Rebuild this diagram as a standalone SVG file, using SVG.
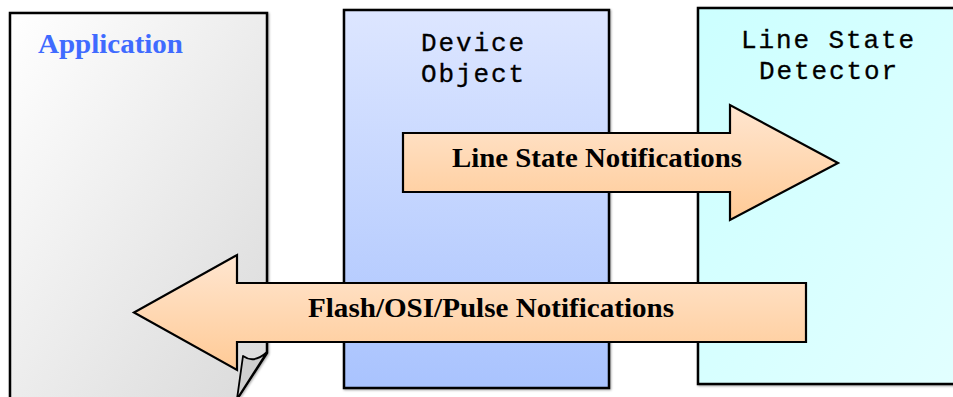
<svg xmlns="http://www.w3.org/2000/svg" width="953" height="397" viewBox="0 0 953 397">
  <defs>
    <linearGradient id="gApp" x1="0" y1="0" x2="1" y2="1">
      <stop offset="0" stop-color="#ffffff"/>
      <stop offset="1" stop-color="#dadada"/>
    </linearGradient>
    <linearGradient id="gDev" x1="0" y1="0" x2="0" y2="1">
      <stop offset="0" stop-color="#dde6ff"/>
      <stop offset="1" stop-color="#a9c3fe"/>
    </linearGradient>
    <linearGradient id="gLsd" x1="0" y1="0" x2="1" y2="1">
      <stop offset="0" stop-color="#ccffff"/>
      <stop offset="1" stop-color="#e2ffff"/>
    </linearGradient>
    <linearGradient id="gArrow" x1="0" y1="0" x2="0" y2="1">
      <stop offset="0" stop-color="#ffe6d0"/>
      <stop offset="1" stop-color="#ffca96"/>
    </linearGradient>
    <filter id="shadow" x="-5%" y="-5%" width="110%" height="110%">
      <feDropShadow dx="1" dy="1" stdDeviation="0.8" flood-color="#000" flood-opacity="0.35"/>
    </filter>
  </defs>
  <style>
    .box { stroke: #000; stroke-width: 2.5; filter: url(#shadow); }
    .arrow { fill: url(#gArrow); stroke: #000; stroke-width: 2.2; stroke-linejoin: miter; }
    .mono { font-family: "Liberation Mono", "Courier New", monospace; font-size: 26px; fill: #000; stroke: #000; stroke-width: 0.3; letter-spacing: 1.9px; }
    .label { font-family: "Liberation Serif", "Times New Roman", serif; font-weight: bold; font-size: 28px; fill: #000; }
    .title { font-family: "Liberation Serif", "Times New Roman", serif; font-weight: bold; font-size: 27px; fill: #3f6bff; }
  </style>

  <rect width="953" height="397" fill="#ffffff"/>

  <!-- Application page with curled corner -->
  <g id="application">
    <path class="box" d="M10,13 L267,13 L267,353 L237,399 L10,399 Z" fill="url(#gApp)"/>
    <path d="M243,356 Q254,364 267,352 L237,399 Z" fill="#cfcfcf" stroke="#000" stroke-width="1.8" stroke-linejoin="round"/>
    <text class="title" x="38" y="53" textLength="145" lengthAdjust="spacingAndGlyphs">Application</text>
  </g>

  <!-- Device Object -->
  <g id="device-object">
    <rect class="box" x="344" y="10" width="265" height="378" fill="url(#gDev)"/>
    <text class="mono" x="421" y="51">Device</text>
    <text class="mono" x="421" y="82">Object</text>
  </g>

  <!-- Line State Detector -->
  <g id="line-state-detector">
    <rect class="box" x="698" y="8" width="262" height="376" fill="url(#gLsd)"/>
    <text class="mono" x="741" y="48">Line State</text>
    <text class="mono" x="759" y="79">Detector</text>
  </g>

  <!-- Notification arrows -->
  <g id="connectors">
    <g id="line-state-notifications">
      <path class="arrow" d="M403,133 L730,133 L730,105 L838,163 L730,220 L730,192 L403,192 Z"/>
      <text class="label" x="452" y="167" textLength="290" lengthAdjust="spacingAndGlyphs">Line State Notifications</text>
    </g>
    <g id="flash-osi-pulse-notifications">
      <path class="arrow" d="M806,283 L237,283 L237,255 L134,312.5 L237,370 L237,342 L806,342 Z"/>
      <text class="label" x="308" y="317" textLength="366" lengthAdjust="spacingAndGlyphs">Flash/OSI/Pulse Notifications</text>
    </g>
  </g>
</svg>
